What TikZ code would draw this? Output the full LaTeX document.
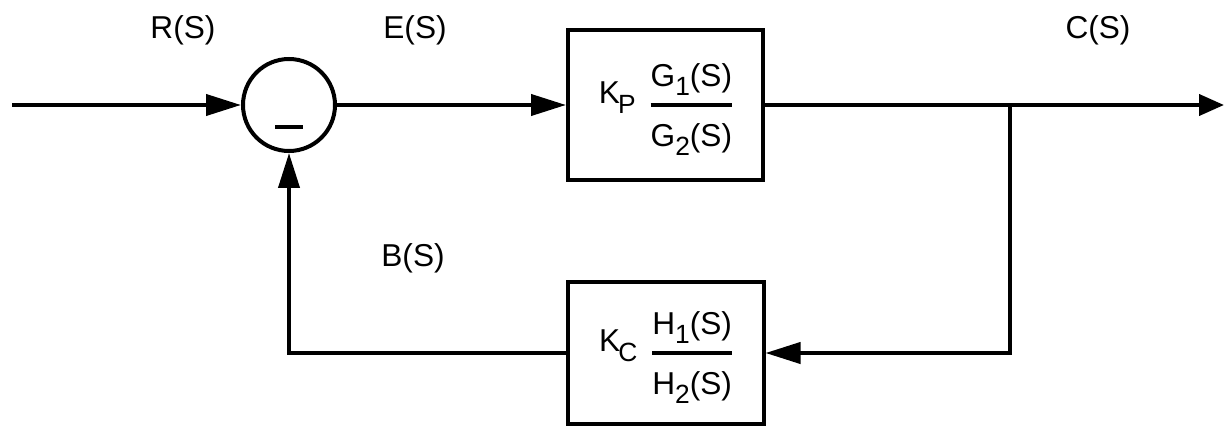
\documentclass[tikz,border=0pt]{standalone}
\usepackage{amsmath}
\usepackage{fontspec}
\setmainfont{Liberation Sans}
\usetikzlibrary{arrows.meta,positioning}
\setlength{\arrayrulewidth}{0.07cm}
\newcommand{\gain}[2]{\raisebox{0.55ex}{#1\kern-0.06em\raisebox{-0.6ex}{\fontsize{15}{17}\selectfont #2}}}
\newcommand{\ratio}[2]{\renewcommand{\arraystretch}{1.55}\begin{tabular}{@{}c@{}}#1\\\hline #2\end{tabular}}
\newcommand{\idx}[1]{\raisebox{-0.55ex}{\fontsize{15}{17}\selectfont #1}}

\begin{document}
\begin{tikzpicture}[node distance={75.3mm}, line width=0.08cm,
  main/.style = {draw, minimum width=3.9cm, minimum height=3cm, inner sep=2pt, font=\fontsize{18}{21}\selectfont},
  sum/.style = {draw, circle, minimum size=1.84cm, inner sep=0pt},
  lbl/.style = {font=\fontsize{18}{22}\selectfont},
  >={Triangle[length=0.7cm,width=0.42cm]}]
\useasboundingbox (0,0) rectangle (24.54,8.54);
\coordinate (in) at (0.24,6.44);
\node[sum] (s) at (5.78,6.44) {};
\node (m) at ([yshift=-0.44cm]s.center) {\rule{0.56cm}{0.09cm}};
\node[main] (g) [right of=s] {\gain{K}{P}\hspace{0.3cm}\ratio{G\idx{1}(S)}{G\idx{2}(S)}};
\node[main, minimum width=3.92cm, minimum height=2.84cm] (h) [below of=g, node distance=4.96cm] {\gain{K}{C}\hspace{0.3cm}\ratio{H\idx{1}(S)}{H\idx{2}(S)}};
\coordinate (br) at (20.2,6.44);
\coordinate (out) at (24.48,6.44);
\node[lbl] (r) at (3.66,7.94) {R(S)};
\node[lbl] (e) at (8.3,7.94) {E(S)};
\node[lbl] (c) at (21.96,7.94) {C(S)};
\node[lbl] (b) at (8.26,3.38) {B(S)};
\draw[->] (in) -- (s);
\draw[->] (s) -- (g);
\draw[-{Triangle[length=0.5cm,width=0.42cm]}] (g) -- (out);
\draw[->] (br) |- (h);
\draw[->] (h) -| (s);
\end{tikzpicture}
\end{document}
